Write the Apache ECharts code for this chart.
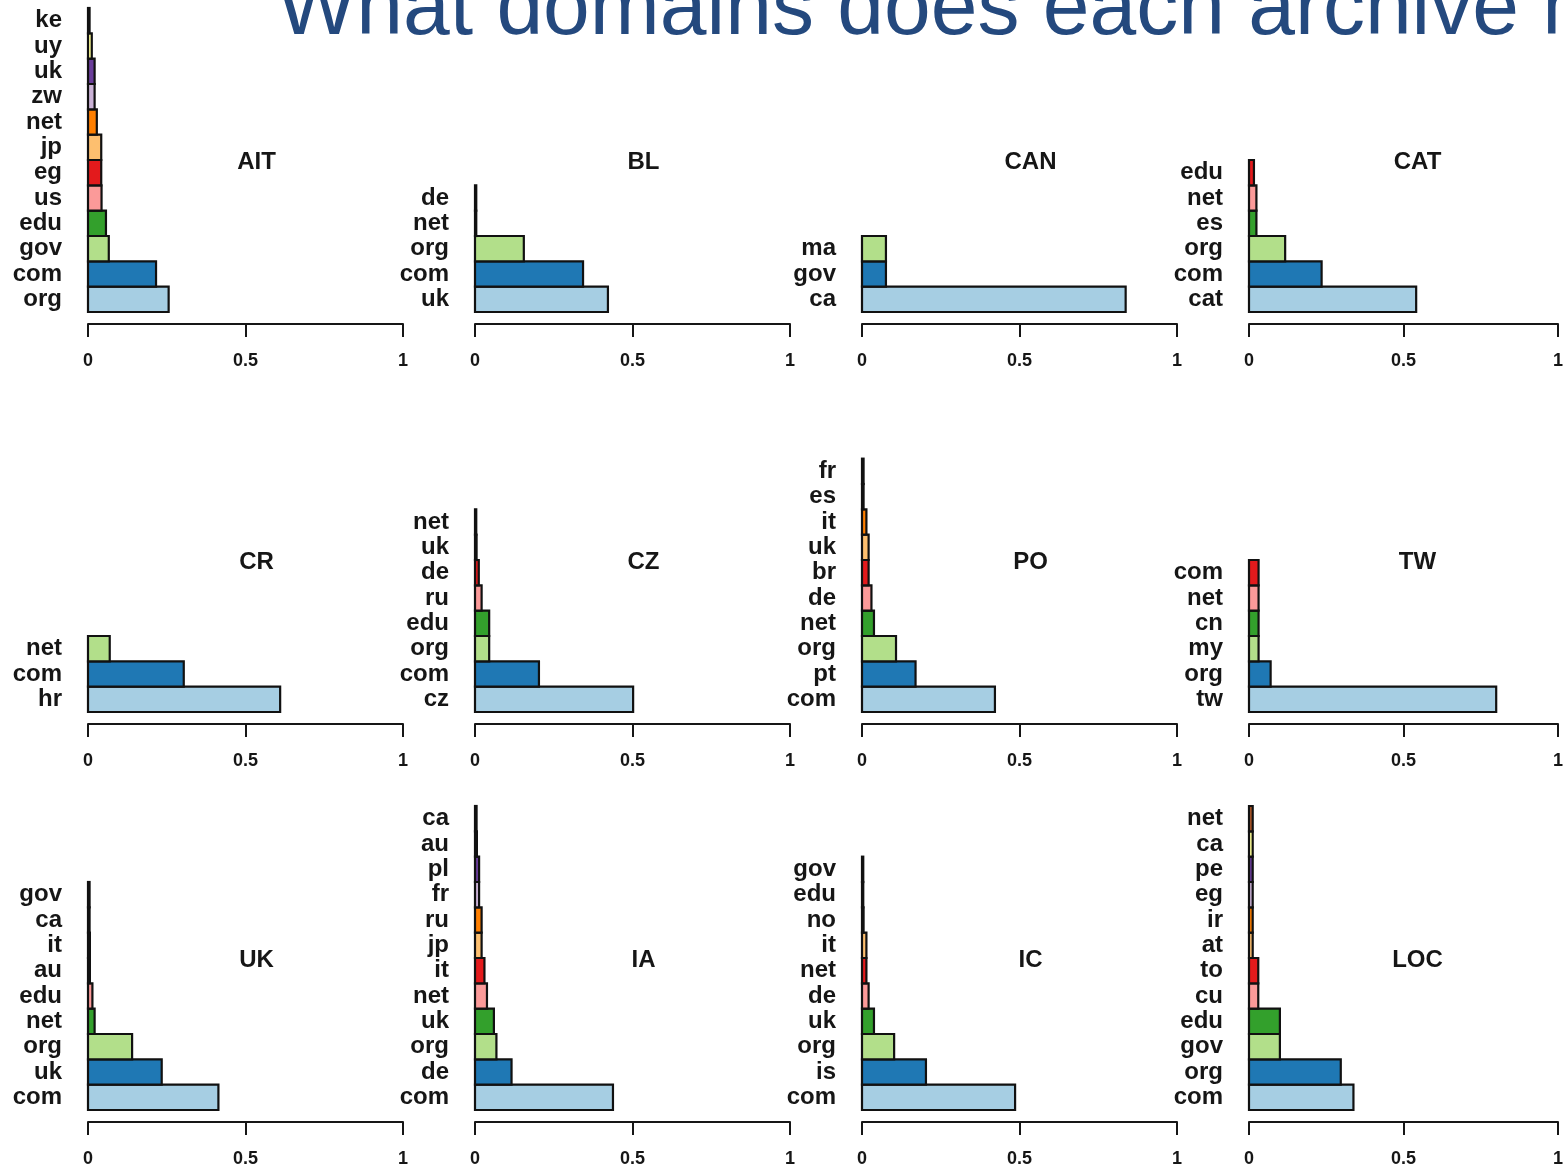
<!DOCTYPE html>
<html>
<head>
<meta charset="utf-8">
<title>Domains per archive</title>
<script src="https://cdn.jsdelivr.net/npm/echarts@6/dist/echarts.min.js"></script>
<style>
  html, body { margin: 0; padding: 0; background: #ffffff; }
  #chart { width: 1566px; height: 1169px; }
</style>
</head>
<body>
<div id="chart"></div>
<script>
// Share of captured URLs by top-level domain, one panel per archive.
// Domains are listed from the bottom bar upwards.
const archiveNames = ['AIT', 'BL', 'CAN', 'CAT', 'CR', 'CZ', 'PO', 'TW', 'UK', 'IA', 'IC', 'LOC'];

const aitDomains = ['org', 'com', 'gov', 'edu', 'us', 'eg', 'jp', 'net', 'zw', 'uk', 'uy', 'ke'];
const aitShares  = [0.256, 0.216, 0.066, 0.057, 0.043, 0.042, 0.042, 0.028, 0.021, 0.021, 0.012, 0.005];

const blDomains = ['uk', 'com', 'org', 'net', 'de'];
const blShares  = [0.422, 0.343, 0.155, 0.004, 0.004];

const canDomains = ['ca', 'gov', 'ma'];
const canShares  = [0.837, 0.076, 0.076];

const catDomains = ['cat', 'com', 'org', 'es', 'net', 'edu'];
const catShares  = [0.541, 0.235, 0.117, 0.024, 0.024, 0.016];

const crDomains = ['hr', 'com', 'net'];
const crShares  = [0.610, 0.304, 0.069];

const czDomains = ['cz', 'com', 'org', 'edu', 'ru', 'de', 'uk', 'net'];
const czShares  = [0.502, 0.203, 0.045, 0.045, 0.021, 0.012, 0.005, 0.004];

const poDomains = ['com', 'pt', 'org', 'net', 'de', 'br', 'uk', 'it', 'es', 'fr'];
const poShares  = [0.422, 0.170, 0.108, 0.038, 0.030, 0.021, 0.021, 0.014, 0.005, 0.005];

const twDomains = ['tw', 'org', 'my', 'cn', 'net', 'com'];
const twShares  = [0.800, 0.070, 0.031, 0.031, 0.031, 0.031];

const ukDomains = ['com', 'uk', 'org', 'net', 'edu', 'au', 'it', 'ca', 'gov'];
const ukShares  = [0.414, 0.234, 0.140, 0.021, 0.014, 0.006, 0.006, 0.005, 0.005];

const iaDomains = ['com', 'de', 'org', 'uk', 'net', 'it', 'jp', 'ru', 'fr', 'pl', 'au', 'ca'];
const iaShares  = [0.438, 0.116, 0.068, 0.060, 0.038, 0.030, 0.021, 0.021, 0.013, 0.013, 0.006, 0.005];

const icDomains = ['com', 'is', 'org', 'uk', 'de', 'net', 'it', 'no', 'edu', 'gov'];
const icShares  = [0.486, 0.203, 0.102, 0.038, 0.021, 0.014, 0.014, 0.005, 0.004, 0.004];

const locDomains = ['com', 'org', 'gov', 'edu', 'cu', 'to', 'at', 'ir', 'eg', 'pe', 'ca', 'net'];
const locShares  = [0.338, 0.297, 0.100, 0.100, 0.030, 0.030, 0.012, 0.012, 0.012, 0.012, 0.012, 0.012];

const xTicks = [0, 0.5, 1];

const panels = [
  [aitDomains, aitShares], [blDomains, blShares], [canDomains, canShares], [catDomains, catShares],
  [crDomains, crShares], [czDomains, czShares], [poDomains, poShares], [twDomains, twShares],
  [ukDomains, ukShares], [iaDomains, iaShares], [icDomains, icShares], [locDomains, locShares]
];

// "Paired" qualitative palette, one colour per rank
const paired = ['#A6CEE3', '#1F78B4', '#B2DF8A', '#33A02C', '#FB9A99', '#E31A1C',
                '#FDBF6F', '#FF7F00', '#CAB2D6', '#6A3D9A', '#FFFF99', '#B15928'];

// layout of the 4 x 3 panel grid
const SLOTS = 12;
const colLeft = [88, 475, 862, 1249];
const rowTop = [8, 408, 806];
const plotW = 315;
const plotH = 304;

const FONT = "'Liberation Sans', Arial, Helvetica, sans-serif";
const INK = '#161616';

// Bars are drawn as full-band rectangles with an outline that keeps its width
// even for very small shares (so tiny domains still show as a dark sliver).
function renderBar(params, api) {
  const share = api.value(0);
  const slot = api.value(1);
  const start = api.coord([0, slot]);
  const end = api.coord([share, slot]);
  const band = api.size([0, 1])[1];
  return {
    type: 'rect',
    shape: { x: start[0], y: start[1] - band / 2, width: end[0] - start[0], height: band },
    style: { fill: paired[params.dataIndex], stroke: '#111111', lineWidth: 2.2 }
  };
}

const grids = [], xAxes = [], yAxes = [], series = [], graphics = [];

panels.forEach(([domains, shares], i) => {
  const col = i % 4, row = Math.floor(i / 4);
  const left = colLeft[col], top = rowTop[row];
  grids.push({ left: left, top: top, width: plotW, height: plotH });

  xAxes.push({
    gridIndex: i, type: 'value', min: xTicks[0], max: xTicks[xTicks.length - 1], interval: 0.5,
    offset: 12,
    splitLine: { show: false },
    axisLine: { show: true, lineStyle: { color: INK, width: 2 } },
    axisTick: { show: true, length: 13, lineStyle: { color: INK, width: 2 } },
    axisLabel: {
      margin: 28, color: INK, fontSize: 18, fontWeight: 'bold',
      fontFamily: "'Liberation Sans Narrow', 'Liberation Sans', Arial, sans-serif",
      formatter: v => String(v)
    }
  });

  const cats = domains.slice();
  while (cats.length < SLOTS) cats.push('');
  yAxes.push({
    gridIndex: i, type: 'category', data: cats,
    axisLine: { show: false }, axisTick: { show: false }, splitLine: { show: false },
    axisLabel: {
      interval: 0, margin: 26, color: INK, fontSize: 24, fontWeight: 'bold', fontFamily: FONT
    }
  });

  series.push({
    type: 'custom', xAxisIndex: i, yAxisIndex: i,
    silent: true, animation: false, clip: false,
    encode: { x: 0, y: 1 },
    renderItem: renderBar,
    data: shares.map((v, j) => [v, j])
  });

  graphics.push({
    type: 'text',
    style: {
      text: archiveNames[i],
      x: left + plotW * 0.535,
      y: top + plotH / 2 + 2,
      align: 'center', verticalAlign: 'middle',
      font: 'bold 24px ' + FONT,
      fill: INK
    }
  });
});

graphics.push({
  type: 'text',
  style: {
    text: 'What domains does each archive have?',
    x: 277, y: 11,
    align: 'left', verticalAlign: 'middle',
    font: 'normal 84px ' + FONT,
    fill: '#24497e'
  }
});

const chart = echarts.init(document.getElementById('chart'), null, { renderer: 'canvas' });
chart.setOption({
  animation: false,
  backgroundColor: '#ffffff',
  grid: grids,
  xAxis: xAxes,
  yAxis: yAxes,
  series: series,
  graphic: graphics
});
</script>
</body>
</html>
